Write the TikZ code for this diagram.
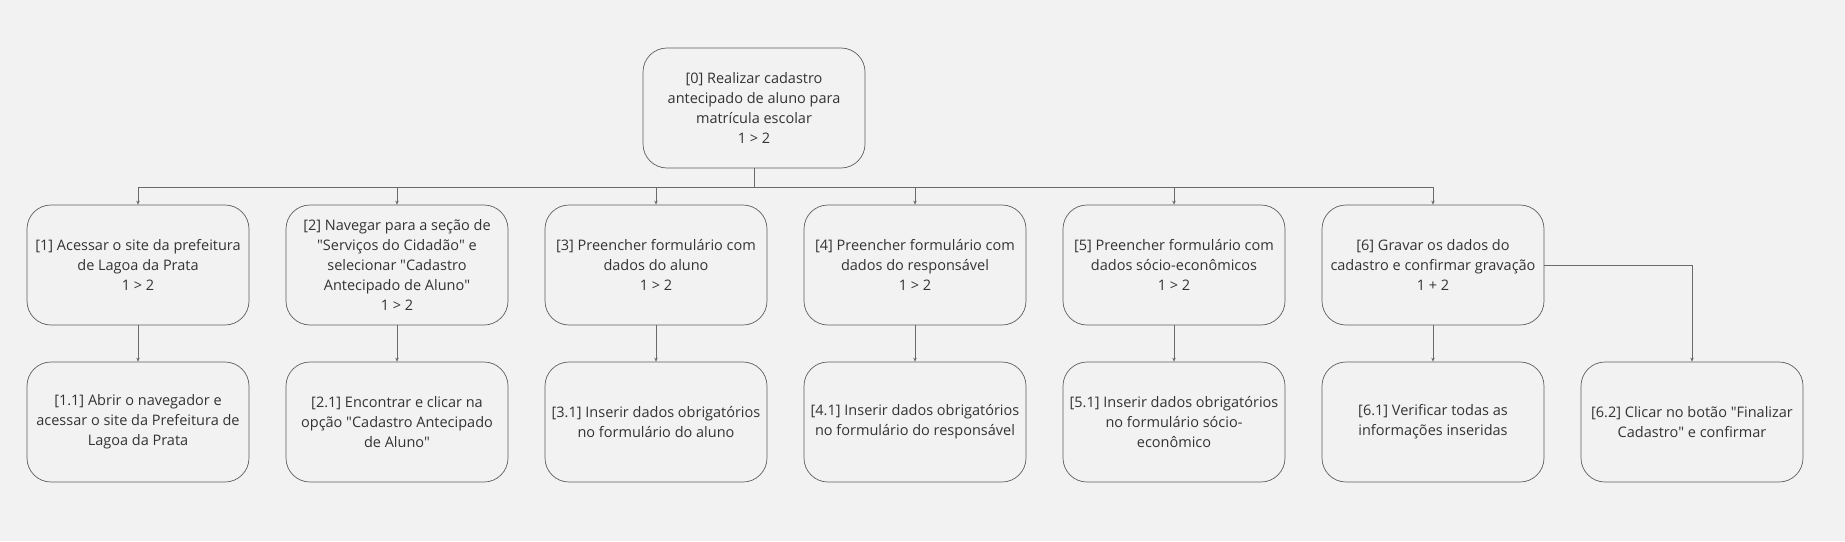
\documentclass[tikz,border=0pt]{standalone}
\usepackage{fontspec}
\setmainfont{Open Sans}
\usetikzlibrary{arrows.meta}
\definecolor{bgpaper}{HTML}{F2F2F2}
\definecolor{boxline}{HTML}{5E5E5E}
\definecolor{inkgray}{HTML}{333333}
\definecolor{wiregray}{HTML}{6A6A6A}
\tikzset{
    taskbox/.style={draw=boxline, line width=0.7pt, fill=bgpaper, rounded corners=24pt,
        minimum width=222pt, minimum height=120pt, inner sep=0pt, align=center,
        text=inkgray, font=\fontsize{14.5}{20}\selectfont},
    link/.style={draw=wiregray, line width=0.8pt, -{Stealth[length=4pt,width=3.5pt]}}
}
\newcommand{\qd}{\textquotedbl}
\begin{document}
\begin{tikzpicture}[x=1pt,y=-1pt]
    \fill[bgpaper] (0,0) rectangle (1845,541);
    \useasboundingbox (0,0) rectangle (1845,541);
        \node[taskbox] (root) at (754,108) {[0] Realizar cadastro\\antecipado de aluno para\\matrícula escolar\\1 > 2};
        \coordinate (bus) at (754,187);
        \foreach \ja/\txt in {
            1/{[1] Acessar o site da prefeitura\\de Lagoa da Prata\\1 > 2},
            2/{[2] Navegar para a seção de\\\qd Serviços do Cidadão\qd{} e\\selecionar \qd Cadastro\\Antecipado de Aluno\qd\\1 > 2},
            3/{[3] Preencher formulário com\\dados do aluno\\1 > 2},
            4/{[4] Preencher formulário com\\dados do responsável\\1 > 2},
            5/{[5] Preencher formulário com\\dados sócio-econômicos\\1 > 2},
            6/{[6] Gravar os dados do\\cadastro e confirmar gravação\\1 + 2}}
        {
            \node[taskbox] (t\ja) at ({138+259*(\ja-1)},265) {\txt};
            \draw[link] (root.south) -- (bus) -| (t\ja.north);
        }
        \foreach \ja/\txt in {
            1/{[1.1] Abrir o navegador e\\acessar o site da Prefeitura de\\Lagoa da Prata},
            2/{[2.1] Encontrar e clicar na\\opção \qd Cadastro Antecipado\\de Aluno\qd},
            3/{[3.1] Inserir dados obrigatórios\\no formulário do aluno},
            4/{[4.1] Inserir dados obrigatórios\\no formulário do responsável},
            5/{[5.1] Inserir dados obrigatórios\\no formulário sócio-\\econômico},
            6/{[6.1] Verificar todas as\\informações inseridas}}
        {
            \node[taskbox] (s\ja) at ({138+259*(\ja-1)},422) {\txt};
            \draw[link] (t\ja.south) -- (s\ja.north);
        }
        \node[taskbox] (s62) at (1692,422) {[6.2] Clicar no botão \qd Finalizar\\Cadastro\qd{} e confirmar};
        \draw[link] (t6.east) -| (s62.north);
    \end{tikzpicture}
\end{document}
